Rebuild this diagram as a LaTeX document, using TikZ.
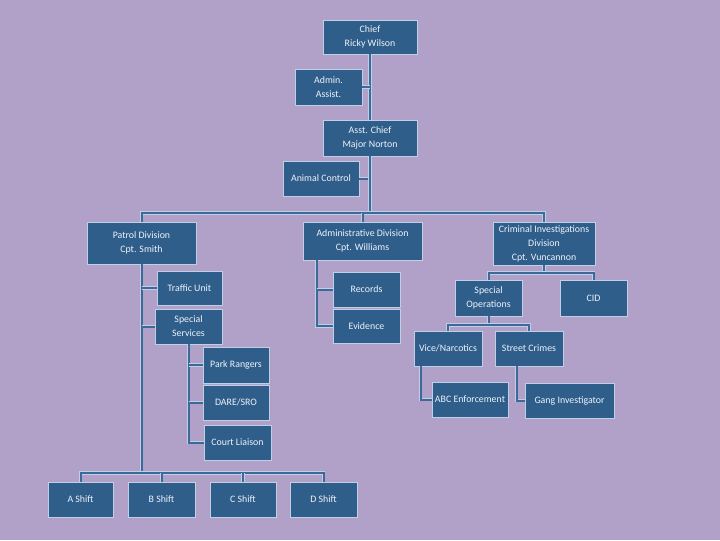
\documentclass[tikz,border=0pt]{standalone}
\usepackage{fontspec}
\setmainfont{Carlito}
\usetikzlibrary{calc}
\definecolor{bgc}{HTML}{B1A1C9}
\definecolor{boxc}{HTML}{2F5E8B}
\definecolor{edgec}{HTML}{BFD0E6}
\definecolor{linec}{HTML}{3B6A9A}
\definecolor{txtc}{HTML}{EEF2F8}
\tikzset{
  box/.style={fill=boxc, draw=edgec, line width=0.5pt, inner sep=0pt, align=center,
    text=txtc, font=\fontsize{7.4}{10.5}\selectfont},
  conn/.style={draw=edgec, line width=0.45pt, double=linec, double distance=1.5pt}
}
\newcommand\bx[6]{\node[box, minimum width={(#4-#2)*0.75pt}, minimum height={(#5-#3)*0.75pt}] (#1) at ({(#2+#4)/2},{(#3+#5)/2}) {#6};}
\begin{document}
\begin{tikzpicture}[x=0.75pt, y=-0.75pt]
\fill[bgc] (0,0) rectangle (720,540);
\useasboundingbox (0,0) rectangle (720,540);
% coordinates for junctions
\coordinate (j1) at (370,213);
\coordinate (shb) at (141.5,473);
\coordinate (cib) at (544,273);
\coordinate (spb) at (488.5,325);
% boxes
\bx{chief}{323}{20}{417}{54}{Chief\\Ricky Wilson}
\bx{adma}{295}{69}{362}{105}{Admin.\\Assist.}
\bx{asst}{323}{120}{417}{156}{Asst. Chief\\Major Norton}
\bx{anim}{283}{161}{359}{196}{Animal Control}
\bx{patrol}{87}{222}{196}{264}{Patrol Division\\Cpt. Smith}
\bx{admdiv}{303}{222}{422}{260}{Administrative Division\\Cpt. Williams}
\bx{cis}{493}{222}{595}{265}{Criminal Investigations\\Division\\Cpt. Vuncannon}
\bx{traffic}{157}{271}{222}{305}{Traffic Unit}
\bx{spec}{155}{309}{222}{344}{Special\\Services}
\bx{park}{203}{347}{269}{383}{Park Rangers}
\bx{dare}{203}{385}{269}{420}{DARE/SRO}
\bx{court}{204}{425}{271}{460}{Court Liaison}
\bx{ashift}{48}{482}{113}{517}{A Shift}
\bx{bshift}{128}{482}{195}{517}{B Shift}
\bx{cshift}{210}{482}{276}{517}{C Shift}
\bx{dshift}{290}{482}{357}{517}{D Shift}
\bx{records}{333}{272}{400}{307}{Records}
\bx{evid}{333}{309}{400}{343}{Evidence}
\bx{specops}{455}{280}{522}{316}{Special\\Operations}
\bx{cid}{560}{280}{627}{316}{CID}
\bx{vice}{414}{331}{482}{366}{Vice/Narcotics}
\bx{street}{495}{331}{563}{366}{Street Crimes}
\bx{abc}{432}{382}{508}{417}{ABC Enforcement}
\bx{gang}{525}{383}{614}{418}{Gang Investigator}
\coordinate (adt) at ($(admdiv.south west)+(14,0)$);
\coordinate (vit) at ($(vice.south west)+(7,0)$);
\coordinate (stt) at ($(street.south west)+(22,0)$);
% connectors
\draw[conn] (chief.south) -- (asst.north);
\draw[conn] (adma.east) -- (adma.east -| chief.south);
\draw[conn] (anim.east) -- (anim.east -| asst.south);
\draw[conn] (asst.south) -- (j1);
\draw[conn] (patrol.north) -- (patrol.north |- j1) -- (cis.north |- j1) -- (cis.north);
\draw[conn] (admdiv.north |- j1) -- (admdiv.north);
% patrol
\draw[conn] (patrol.south) -- (shb);
\draw[conn] (ashift.north) -- (ashift.north |- shb) -- (dshift.north |- shb) -- (dshift.north);
\draw[conn] (bshift.north |- shb) -- (bshift.north);
\draw[conn] (cshift.north |- shb) -- (cshift.north);
\draw[conn] (traffic.west -| shb) -- (traffic.west);
\draw[conn] (spec.west -| shb) -- (spec.west);
\draw[conn] (spec.south) |- (court.west);
\draw[conn] (park.west -| spec.south) -- (park.west);
\draw[conn] (dare.west -| spec.south) -- (dare.west);
% admin division
\draw[conn] (adt) |- (evid.west);
\draw[conn] (adt |- records.west) -- (records.west);
% criminal investigations
\draw[conn] (cis.south) -- (cib);
\draw[conn] (specops.north) -- (specops.north |- cib) -- (cid.north |- cib) -- (cid.north);
\draw[conn] (specops.south) -- (spb);
\draw[conn] (vice.north) -- (vice.north |- spb) -- (street.north |- spb) -- (street.north);
\draw[conn] (vit) |- (abc.west);
\draw[conn] (stt) |- (gang.west);
\end{tikzpicture}
\end{document}
